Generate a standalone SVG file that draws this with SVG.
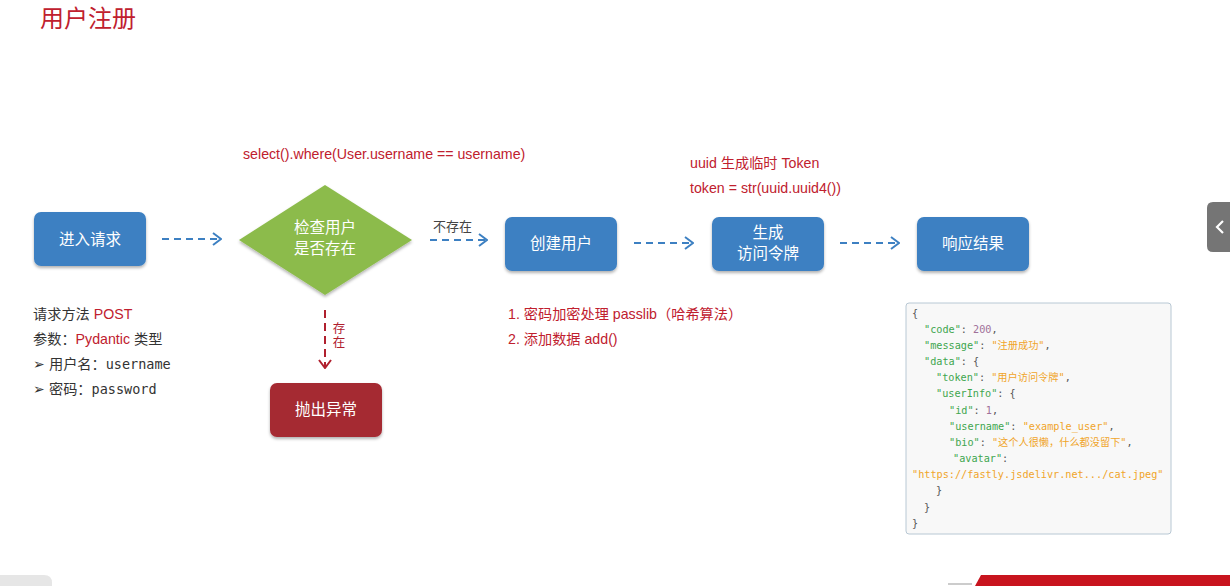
<svg xmlns="http://www.w3.org/2000/svg" width="1230" height="586" viewBox="0 0 1230 586">
<defs>
<filter id="sh" x="-20%" y="-20%" width="140%" height="150%">
<feDropShadow dx="0" dy="2" stdDeviation="1.6" flood-color="#000" flood-opacity="0.3"/>
</filter>
<marker id="ab" viewBox="0 0 10 14" refX="9" refY="7" markerWidth="10" markerHeight="14" markerUnits="userSpaceOnUse" orient="auto">
<path d="M1,1 L9,7 L1,13" fill="none" stroke="#3d80c2" stroke-width="2"/>
</marker>
<marker id="ar" viewBox="0 0 10 14" refX="9" refY="7" markerWidth="10" markerHeight="14" markerUnits="userSpaceOnUse" orient="auto">
<path d="M1,1 L9,7 L1,13" fill="none" stroke="#b0202e" stroke-width="2"/>
</marker>
</defs>
<style>
.cjk{font-family:"Noto Sans CJK SC","Liberation Sans",sans-serif}
.node{fill:#3d80c2;filter:url(#sh)}
.nt{font-family:"Noto Sans CJK SC",sans-serif;font-size:15.5px;fill:#fff;text-anchor:middle}
.red{fill:#c0202e}
.dk{fill:#333}
.t14{font-family:"Liberation Sans","Noto Sans CJK SC",sans-serif;font-size:14.2px}
.mono{font-family:"DejaVu Sans Mono","Liberation Mono","Noto Sans CJK SC",monospace;font-size:10.2px}
.k{fill:#3ea64e}.s{fill:#f0a52a}.n{fill:#a0709a}.p{fill:#555}
.cb{fill:none;stroke:#3d80c2;stroke-width:2;stroke-dasharray:7 5}
.cr{fill:none;stroke:#b0202e;stroke-width:2;stroke-dasharray:8 5}
</style>
<rect width="1230" height="586" fill="#fff"/>
<text x="40" y="27" class="cjk" font-size="24" fill="#c0202e">用户注册</text>

<g id="connectors">
<path class="cb" d="M162,239 H221" marker-end="url(#ab)"/>
<path class="cb" d="M430,240 H487" marker-end="url(#ab)"/>
<path class="cb" d="M634,243 H693" marker-end="url(#ab)"/>
<path class="cb" d="M840,243 H899" marker-end="url(#ab)"/>
<path class="cr" d="M325,310 V368" marker-end="url(#ar)"/>
<text x="433" y="231" class="cjk" font-size="13" fill="#444">不存在</text>
<text x="339" y="322" class="cjk" font-size="12.5" fill="#b0202e" writing-mode="vertical-rl" letter-spacing="1.5">存在</text>
</g>

<g id="n-enter">
<rect class="node" x="34" y="212" width="112" height="54" rx="7"/>
<text class="nt" x="90" y="245">进入请求</text>
</g>
<g id="n-check">
<polygon points="325,185 412,240 325,295 239,240" fill="#8cbb4b" filter="url(#sh)"/>
<text class="nt" x="325" y="233">检查用户</text>
<text class="nt" x="325" y="254">是否存在</text>
</g>
<g id="n-create">
<rect class="node" x="505" y="217" width="112" height="54" rx="7"/>
<text class="nt" x="561" y="249">创建用户</text>
</g>
<g id="n-token">
<rect class="node" x="712" y="217" width="112" height="54" rx="7"/>
<text class="nt" x="768" y="238">生成</text>
<text class="nt" x="768" y="259">访问令牌</text>
</g>
<g id="n-resp">
<rect class="node" x="917" y="217" width="112" height="54" rx="7"/>
<text class="nt" x="973" y="249">响应结果</text>
</g>
<g id="n-throw">
<rect x="270" y="383" width="112" height="54" rx="7" fill="#a52a33" filter="url(#sh)"/>
<text class="nt" x="326" y="415">抛出异常</text>
</g>

<g id="notes">
<text x="243" y="159" class="t14 red">select().where(User.username == username)</text>
<text x="690" y="168" class="t14 red">uuid 生成临时 Token</text>
<text x="690" y="193" class="t14 red">token = str(uuid.uuid4())</text>
<text x="33" y="319" class="t14 dk">请求方法 <tspan class="red">POST</tspan></text>
<text x="33" y="344" class="t14 dk">参数：<tspan class="red">Pydantic</tspan> 类型</text>
<text x="33" y="369" class="t14 dk">➢ 用户名：<tspan font-family="DejaVu Sans Mono,monospace" font-size="13.5">username</tspan></text>
<text x="33" y="394" class="t14 dk">➢ 密码：<tspan font-family="DejaVu Sans Mono,monospace" font-size="13.5">password</tspan></text>
<text x="508" y="319" class="t14 red">1. 密码加密处理 passlib（哈希算法）</text>
<text x="508" y="344" class="t14 red">2. 添加数据 add()</text>
</g>

<g id="json">
<rect x="906" y="303" width="265" height="231" rx="3" fill="#f8f8f8" stroke="#b8c8d4" stroke-width="1"/>
<text class="mono" xml:space="preserve">
<tspan x="912" y="317" class="p">{</tspan>
<tspan x="924" y="333"><tspan class="k">"code"</tspan><tspan class="p">: </tspan><tspan class="n">200</tspan><tspan class="p">,</tspan></tspan>
<tspan x="924" y="349"><tspan class="k">"message"</tspan><tspan class="p">: </tspan><tspan class="s">"注册成功"</tspan><tspan class="p">,</tspan></tspan>
<tspan x="924" y="365"><tspan class="k">"data"</tspan><tspan class="p">: {</tspan></tspan>
<tspan x="936" y="381"><tspan class="k">"token"</tspan><tspan class="p">: </tspan><tspan class="s">"用户访问令牌"</tspan><tspan class="p">,</tspan></tspan>
<tspan x="936" y="397"><tspan class="k">"userInfo"</tspan><tspan class="p">: {</tspan></tspan>
<tspan x="949" y="414"><tspan class="k">"id"</tspan><tspan class="p">: </tspan><tspan class="n">1</tspan><tspan class="p">,</tspan></tspan>
<tspan x="949" y="430"><tspan class="k">"username"</tspan><tspan class="p">: </tspan><tspan class="s">"example_user"</tspan><tspan class="p">,</tspan></tspan>
<tspan x="949" y="446"><tspan class="k">"bio"</tspan><tspan class="p">: </tspan><tspan class="s">"这个人很懒，什么都没留下"</tspan><tspan class="p">,</tspan></tspan>
<tspan x="953" y="462"><tspan class="k">"avatar"</tspan><tspan class="p">:</tspan></tspan>
<tspan x="912" y="478" class="s">"https://fastly.jsdelivr.net.../cat.jpeg"</tspan>
<tspan x="936" y="494" class="p">}</tspan>
<tspan x="924" y="511" class="p">}</tspan>
<tspan x="912" y="527" class="p">}</tspan>
</text>
</g>

<g id="ui">
<path d="M1230,202 H1213 Q1207,202 1207,208 V246 Q1207,252 1213,252 H1230 Z" fill="#757575"/>
<path d="M1223,221 L1217,227 L1223,233" fill="none" stroke="#fff" stroke-width="2.2"/>
<path d="M0,575 H44 Q52,575 52,583 V586 H0 Z" fill="#e6e6e6"/>
<path d="M981,575 H1230 V586 H975 Z" fill="#c8141e"/>
<line x1="948" y1="584" x2="972" y2="584" stroke="#999" stroke-width="1"/>
</g>
</svg>
